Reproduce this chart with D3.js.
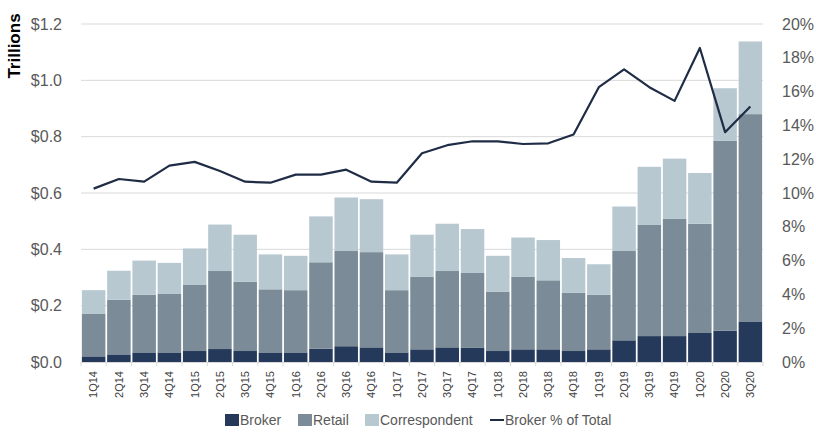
<!DOCTYPE html>
<html><head><meta charset="utf-8">
<script src="https://cdn.jsdelivr.net/npm/d3@7"></script>
<style>
body{margin:0;background:#fff;}
text{font-family:"Liberation Sans",Arial,sans-serif;}
</style></head>
<body><svg id="c" width="816" height="447"></svg>
<script>
const quarters = ["1Q14","2Q14","3Q14","4Q14","1Q15","2Q15","3Q15","4Q15","1Q16","2Q16","3Q16","4Q16","1Q17","2Q17","3Q17","4Q17","1Q18","2Q18","3Q18","4Q18","1Q19","2Q19","3Q19","4Q19","1Q20","2Q20","3Q20"];
const broker = [0.020,0.027,0.032,0.034,0.039,0.046,0.039,0.034,0.034,0.047,0.056,0.052,0.034,0.045,0.052,0.050,0.039,0.045,0.045,0.039,0.045,0.077,0.092,0.092,0.103,0.111,0.144];
const retail = [0.152,0.194,0.207,0.209,0.236,0.277,0.246,0.224,0.221,0.307,0.338,0.338,0.221,0.257,0.271,0.266,0.211,0.257,0.245,0.207,0.194,0.317,0.396,0.416,0.388,0.675,0.736];
const correspondent = [0.083,0.103,0.121,0.109,0.128,0.165,0.167,0.124,0.122,0.163,0.190,0.188,0.127,0.150,0.168,0.156,0.127,0.140,0.143,0.123,0.108,0.158,0.205,0.214,0.180,0.186,0.258];
const brokerPct = [10.26,10.83,10.67,11.62,11.84,11.30,10.67,10.61,11.09,11.09,11.38,10.67,10.61,12.35,12.83,13.06,13.06,12.90,12.94,13.46,16.26,17.31,16.26,15.45,18.58,13.60,15.12];
const leftTicks = [0,0.2,0.4,0.6,0.8,1.0,1.2];
const rightTicks = [0,2,4,6,8,10,12,14,16,18,20];
const seriesNames = ["Broker","Retail","Correspondent"];
const colors = {Broker:"#253a5a",Retail:"#7b8b97",Correspondent:"#b8c8d1",line:"#1f2c45"};

const svg = d3.select("#c");
const m = {l:81,r:53,t:24,b:85};
const W = 816, H = 447;
const x = d3.scaleBand().domain(quarters).range([m.l, W-m.r]).paddingInner(0.07).paddingOuter(0.035);
const y = d3.scaleLinear().domain([0,1.2]).range([H-m.b, m.t]);
const y2 = d3.scaleLinear().domain([0,20]).range([H-m.b, m.t]);

// gridlines
svg.append("g").selectAll("line").data(leftTicks.slice(1)).join("line")
  .attr("x1",m.l).attr("x2",W-m.r).attr("y1",d=>y(d)).attr("y2",d=>y(d))
  .attr("stroke","#d9d9d9").attr("stroke-width",1);

// stacked data
const rows = quarters.map((q,i)=>({q,Broker:broker[i],Retail:retail[i],Correspondent:correspondent[i]}));
const stack = d3.stack().keys(seriesNames)(rows);
svg.append("g").selectAll("g").data(stack).join("g").attr("fill",d=>colors[d.key])
  .selectAll("rect").data(d=>d).join("rect")
  .attr("x",d=>x(d.data.q)).attr("width",x.bandwidth())
  .attr("y",d=>y(d[1])).attr("height",d=>y(d[0])-y(d[1]));

// x axis
const xAxis = d3.axisBottom(x).tickSize(0).tickPadding(0);
const gx = svg.append("g").attr("transform",`translate(0,${H-m.b})`).call(xAxis);
gx.select(".domain").attr("stroke","#d9d9d9");
gx.selectAll("text").attr("transform","rotate(-90)").attr("text-anchor","end")
  .attr("x",-9).attr("y",0).attr("dy","0.35em").attr("font-size",11).attr("fill","#404040");
// tick marks at band boundaries
const step = x.step();
const bounds = d3.range(quarters.length+1).map(i=> m.l + (W-m.r-m.l)*i/quarters.length);
svg.append("g").selectAll("line").data(bounds).join("line")
  .attr("x1",d=>d).attr("x2",d=>d).attr("y1",H-m.b).attr("y2",H-m.b+4)
  .attr("stroke","#d9d9d9");

// left axis
const gl = svg.append("g").attr("transform",`translate(${m.l-16},0)`)
  .call(d3.axisLeft(y).tickValues(leftTicks).tickSize(0).tickFormat(d=>"$"+d3.format(".1f")(d)));
gl.select(".domain").remove();
gl.selectAll("text").attr("font-size",16).attr("fill","#595959").attr("font-family","'Liberation Sans Narrow','Liberation Sans',Arial,sans-serif");

// right axis
const gr = svg.append("g").attr("transform",`translate(${W-m.r+16},0)`)
  .call(d3.axisRight(y2).tickValues(rightTicks).tickSize(0).tickFormat(d=>d+"%"));
gr.select(".domain").remove();
gr.selectAll("text").attr("font-size",16).attr("fill","#595959").attr("font-family","'Liberation Sans Narrow','Liberation Sans',Arial,sans-serif");

// Trillions label
svg.append("text").attr("transform","translate(20,46) rotate(-90)").attr("text-anchor","middle")
  .attr("font-size",17).attr("font-weight","bold").attr("fill","#000").text("Trillions");

// line
const line = d3.line().x((d,i)=>x(quarters[i])+x.bandwidth()/2).y(d=>y2(d));
svg.append("path").datum(brokerPct).attr("d",line).attr("fill","none")
  .attr("stroke",colors.line).attr("stroke-width",2.2).attr("stroke-linejoin","round");

// legend
const legend = [
  {name:"Broker",type:"rect",c:colors.Broker,x:225},
  {name:"Retail",type:"rect",c:colors.Retail,x:298},
  {name:"Correspondent",type:"rect",c:colors.Correspondent,x:365},
  {name:"Broker % of Total",type:"line",c:colors.line,x:490}
];
const lg = svg.append("g").selectAll("g").data(legend).join("g").attr("transform",d=>`translate(${d.x},420)`);
lg.filter(d=>d.type==="rect").append("rect").attr("x",0).attr("y",-6).attr("width",14).attr("height",12).attr("fill",d=>d.c);
lg.filter(d=>d.type==="line").append("line").attr("x1",0).attr("x2",14).attr("y1",0).attr("y2",0).attr("stroke",d=>d.c).attr("stroke-width",2);
lg.append("text").attr("x",15).attr("y",0).attr("dy","0.35em").attr("font-size",14).attr("fill","#595959").text(d=>d.name);
</script></body></html>
